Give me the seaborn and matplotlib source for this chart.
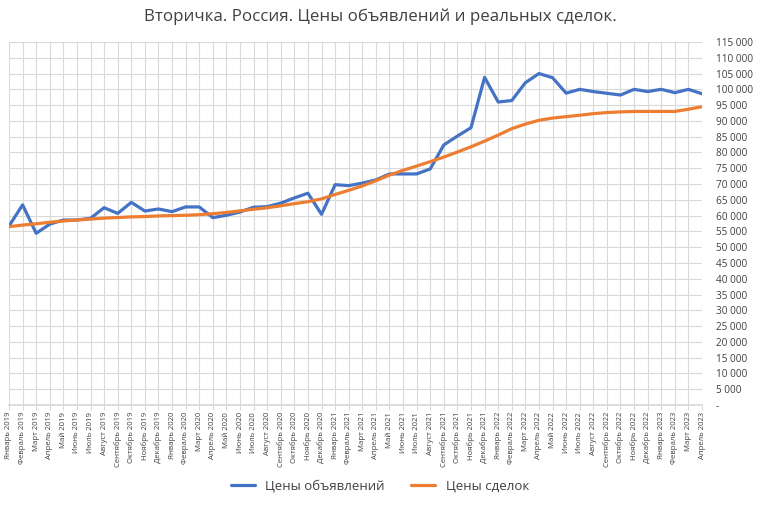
import matplotlib
matplotlib.use("Agg")
import matplotlib.pyplot as plt
import seaborn as sns
import pandas as pd
import numpy as np
from matplotlib.ticker import FuncFormatter, MultipleLocator
from matplotlib.lines import Line2D

months_ru = ["Январь", "Февраль", "Март", "Апрель", "Май", "Июнь", "Июль",
             "Август", "Сентябрь", "Октябрь", "Ноябрь", "Декабрь"]
years = [2019, 2020, 2021, 2022, 2023]
categories = [f"{m} {y}" for y in years for m in months_ru][:52]

listing_prices = [
    56700, 63400, 54400, 57300, 58600, 58600, 59150, 62500, 60700, 64200,
    61450, 62100, 61250, 62750, 62750, 59350, 60100, 61150, 62650, 62850,
    63950, 65600, 67100, 60400, 69800, 69500, 70300, 71300, 73200, 73200,
    73200, 74800, 82400, 85200, 87850, 103800, 96000, 96450, 102100, 105000,
    103700, 98800, 100000, 99300, 98750, 98200, 100000, 99300, 100000, 98950,
    100000, 98600,
]
deal_prices = [
    56500, 57000, 57400, 57900, 58300, 58600, 58900, 59200, 59400, 59600,
    59700, 59900, 60000, 60100, 60300, 60600, 61000, 61500, 62000, 62500,
    63100, 63800, 64400, 65300, 66700, 68000, 69400, 71050, 72850, 74350,
    75700, 77100, 78550, 80150, 81800, 83600, 85500, 87550, 89000, 90200,
    90900, 91350, 91800, 92300, 92650, 92850, 93000, 93000, 93000, 93000,
    93700, 94500,
]
series_names = ["Цены объявлений", "Цены сделок"]
colors = ["#4472C4", "#ED7D31"]

df = pd.DataFrame({
    "idx": list(range(len(categories))) * 2,
    "value": listing_prices + deal_prices,
    "series": [series_names[0]] * len(categories) + [series_names[1]] * len(categories),
})

sns.set_theme(style="white")
plt.rcParams["font.family"] = ["Open Sans", "DejaVu Sans"]

fig = plt.figure(figsize=(7.58, 5.07), dpi=100)
ax = fig.add_axes([9 / 758, 1 - 405 / 507, (702 - 9) / 758, (405 - 42) / 507])

sns.lineplot(data=df, x="idx", y="value", hue="series", palette=colors,
             linewidth=2.3, ax=ax, legend=False)

ax.set_xlim(0, len(categories) - 1)
ax.set_ylim(0, 115000)
ax.yaxis.set_major_locator(MultipleLocator(5000))
ax.yaxis.tick_right()
ax.yaxis.set_major_formatter(FuncFormatter(
    lambda v, p: "-" if abs(v) < 1 else f"{int(round(v)):,}".replace(",", " ")))
ax.set_xticks(range(len(categories)))
ax.set_xticklabels(categories, rotation=90, fontsize=5.6, color="#404040")
for lab in ax.get_yticklabels():
    lab.set_horizontalalignment("left")
ax.tick_params(axis="y", labelsize=7.2, colors="#404040", length=0, pad=10)
ax.tick_params(axis="x", length=3.5, width=0.8, color="#d9d9d9", pad=1.5,
               bottom=True)
ax.grid(True, color="#d9d9d9", linewidth=0.8)
ax.set_axisbelow(True)
for s in ["top", "left", "right"]:
    ax.spines[s].set_visible(False)
ax.spines["bottom"].set_color("#d9d9d9")
ax.set_xlabel("")
ax.set_ylabel("")

handles = [Line2D([0], [0], color=c, lw=2.3) for c in colors]
fig.legend(handles, series_names, loc="center", bbox_to_anchor=(380 / 758, 1 - 486 / 507),
           ncol=2, frameon=False, fontsize=9.5, handlelength=1.8, columnspacing=2.0,
           labelcolor="#404040")

fig.suptitle("Вторичка. Россия. Цены объявлений и реальных сделок.",
             x=380 / 758, y=1 - 17 / 507, va="center", fontsize=12.2, color="#404040")

fig.savefig("out.png", dpi=100, facecolor="white")
